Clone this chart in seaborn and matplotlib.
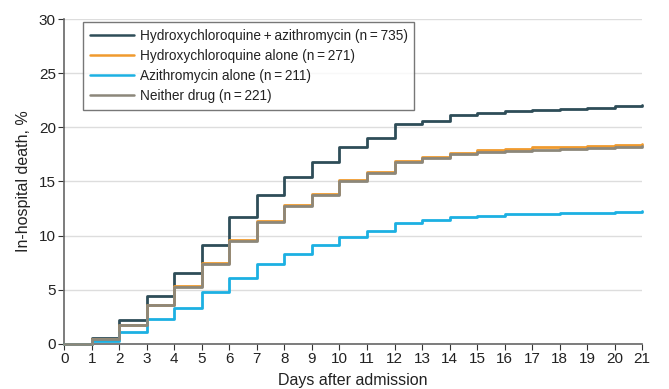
import matplotlib
matplotlib.use("Agg")
import matplotlib.pyplot as plt
import seaborn as sns
import pandas as pd

# Cumulative in-hospital death (%) by day after admission
days = list(range(22))
hcq_azm = [0, 0.55, 2.2, 4.45, 6.5, 9.1, 11.7, 13.75, 15.45, 16.8, 18.2, 19.0,
           20.3, 20.6, 21.1, 21.3, 21.5, 21.6, 21.65, 21.8, 21.95, 22.05]
hcq_only = [0, 0.45, 1.75, 3.6, 5.3, 7.45, 9.55, 11.35, 12.8, 13.85, 15.1, 15.85,
            16.9, 17.3, 17.65, 17.9, 18.0, 18.15, 18.15, 18.3, 18.4, 18.5]
azm_only = [0, 0.25, 1.1, 2.3, 3.35, 4.75, 6.1, 7.35, 8.3, 9.15, 9.9, 10.4,
            11.2, 11.45, 11.7, 11.8, 11.95, 12.0, 12.05, 12.1, 12.2, 12.25]
neither = [0, 0.45, 1.7, 3.55, 5.25, 7.4, 9.5, 11.3, 12.7, 13.75, 15.0, 15.75,
           16.8, 17.15, 17.5, 17.75, 17.85, 17.95, 18.0, 18.1, 18.2, 18.3]

groups = ["Hydroxychloroquine\u2009+\u2009azithromycin (n\u2009=\u2009735)",
          "Hydroxychloroquine alone (n\u2009=\u2009271)",
          "Azithromycin alone (n\u2009=\u2009211)",
          "Neither drug (n\u2009=\u2009221)"]
colors = ["#2e4d58", "#f09a2e", "#1cb0e2", "#8c877a"]

df = pd.concat([
    pd.DataFrame({"day": days, "death": vals, "group": g})
    for g, vals in zip(groups, [hcq_azm, hcq_only, azm_only, neither])
])

sns.set_style("white")
plt.rcParams['font.family'] = ['Liberation Sans', 'DejaVu Sans']

fig, ax = plt.subplots(figsize=(6.69, 3.89), dpi=100)
fig.subplots_adjust(left=0.096, right=0.96, top=0.951, bottom=0.116)

sns.lineplot(data=df, x="day", y="death", hue="group", hue_order=groups,
             palette=colors, drawstyle="steps-post", linewidth=2, ax=ax,
             zorder=3, clip_on=False)

ax.set_xlim(0, 21)
ax.set_ylim(0, 30)
ax.set_xticks(range(0, 22))
ax.set_yticks(range(0, 31, 5))
ax.yaxis.grid(True, color="#dddddd", linewidth=1)
ax.set_axisbelow(True)
for s in ["top", "right"]:
    ax.spines[s].set_visible(False)
for s in ["left", "bottom"]:
    ax.spines[s].set_color("#666666")
    ax.spines[s].set_linewidth(1.2)
ax.tick_params(axis="both", direction="out", length=4, width=0.8,
               color="#333333", labelsize=11, pad=2, bottom=True, left=True,
               labelcolor="#222222")
ax.set_xlabel("Days after admission", fontsize=11.5, labelpad=5, color="#222222")
ax.set_ylabel("In-hospital death, %", fontsize=11.5, labelpad=6, color="#222222")

leg = ax.legend(loc="upper left", bbox_to_anchor=(0.021, 1.012), fontsize=9.8,
                frameon=True, fancybox=False, edgecolor="#555555",
                handlelength=3.2, handletextpad=0.45, borderpad=0.5,
                labelspacing=0.45)
leg.get_frame().set_linewidth(1)
for text in leg.get_texts():
    text.set_color("#222222")
for line in leg.get_lines():
    line.set_linewidth(1.8)

fig.savefig("out.png", dpi=100)
